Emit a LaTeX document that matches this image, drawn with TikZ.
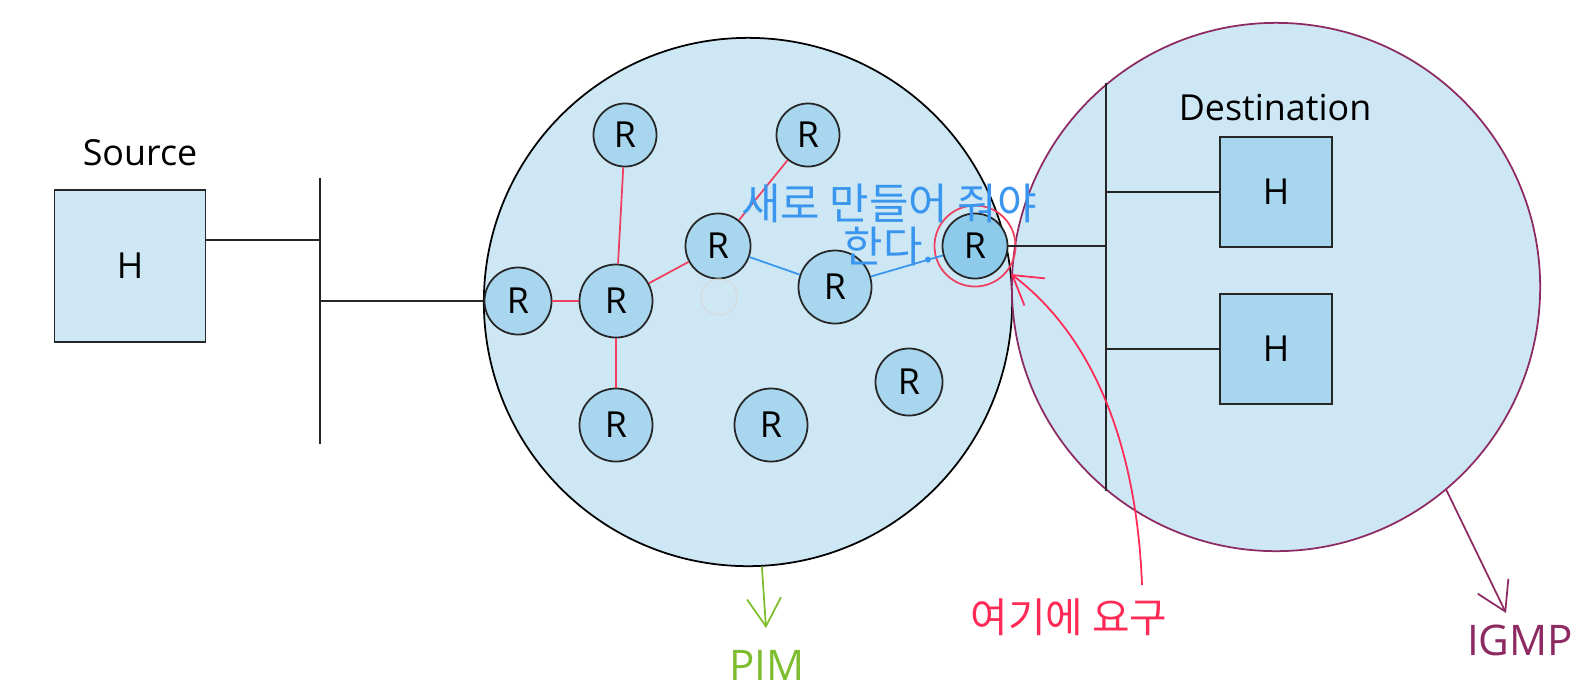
\documentclass[tikz,border=0pt]{standalone}
\usepackage{fontspec}
\setmainfont{Open Sans}
\newfontfamily\krfont{Noto Sans CJK KR}
\usetikzlibrary{arrows.meta}

\definecolor{areafill}{HTML}{CDE7F5}
\definecolor{nodefill}{HTML}{A8D6EE}
\definecolor{hotfill}{HTML}{8ECAE9}
\definecolor{pathred}{HTML}{F0405F}
\definecolor{notered}{HTML}{FF2A55}
\definecolor{pathblue}{HTML}{3A95EE}
\definecolor{pimgreen}{HTML}{7EBE2E}
\definecolor{igmppurple}{HTML}{8E2A62}

\begin{document}
\begin{tikzpicture}[
    x=0.01cm, y=-0.01cm,
    font=\fontsize{10.2}{12}\selectfont,
    area/.style={circle, draw=black, fill=areafill, line width=0.5pt, minimum size=5.28cm, inner sep=0pt},
    router/.style={circle, draw=black!85, fill=nodefill, line width=0.5pt, inner sep=0pt, minimum size=0.67cm},
    bigrouter/.style={router, minimum size=0.73cm},
    smallrouter/.style={router, minimum size=0.63cm},
    hostbox/.style={rectangle, draw=black!85, fill=nodefill, line width=0.5pt, minimum width=1.12cm, minimum height=1.1cm},
    wire/.style={line width=0.5pt, black!85},
    redlink/.style={line width=0.5pt, pathred},
    bluelink/.style={line width=0.5pt, pathblue},
    note/.style={-{Straight Barb[length=2.8mm, width=3.4mm]}, line width=0.5pt}
]
\useasboundingbox (0,0) rectangle (1588,687);

% networks
\node[area] (pim) at (748,302) {};
\node[area, draw=igmppurple] (igmp) at (1276,287) {};

% source side
\node[hostbox, fill=areafill, minimum width=1.51cm, minimum height=1.52cm] (src) at (130,266) {H};
\node (srclabel) at (140,153) {Source};
\coordinate (lanA1) at (320,178);
\coordinate (lanA2) at (320,444);
\draw[wire] (lanA1) -- (lanA2);
\draw[wire] (src.east |- 0,240) -- (lanA1 |- 0,240);

% routers
\node[smallrouter] (r1) at (625,135) {R};
\node[smallrouter] (r2) at (808,135) {R};
\node[router, minimum size=0.65cm] (r3) at (718,246) {R};
\node[router] (r4) at (518,301) {R};
\node[bigrouter] (r5) at (616,301) {R};
\node[bigrouter] (r6) at (835,287) {R};
\node[router, fill=hotfill, minimum size=0.65cm] (r7) at (975,246) {R};
\node[circle, draw=pathred, line width=0.5pt, minimum size=0.81cm] (ring) at (r7) {};
\node[router] (r8) at (909,382) {R};
\node[bigrouter] (r9) at (616,425) {R};
\node[bigrouter] (r10) at (771,425) {R};
\node[circle, draw=black!15, line width=0.3pt, minimum size=0.36cm] (ghost) at (719,297) {};

\draw[wire] (lanA1 |- 0,301) -- (r4);

% tree
\draw[redlink] (r4) -- (r5);
\draw[redlink] (r5) -- (r1);
\draw[redlink] (r5) -- (r9);
\draw[redlink] (r5) -- (r3);
\draw[redlink] (r3) -- (r2);
\draw[bluelink] (r3) -- (r6);
\draw[bluelink] (r6) -- (r7);

% destination side
\coordinate (lanB1) at (1106,83);
\coordinate (lanB2) at (1106,491);
\draw[wire] (lanB1) -- (lanB2);
\draw[wire] (r7.east) -- (lanB1 |- r7.east);
\node[hostbox] (dst1) at (1276,192) {H};
\node[hostbox] (dst2) at (1276,349) {H};
\node (dstlabel) at (1275,107) {Destination};
\draw[wire] (lanB1 |- dst1) -- (dst1);
\draw[wire] (lanB1 |- dst2) -- (dst2);

% annotations
\node[text=pathblue, align=center, font=\krfont\fontsize{12.2}{12.4}\selectfont] (newtext) at (889,225) {새로 만들어 줘야\\한다.};
\node[text=notered, font=\krfont\fontsize{11.6}{12}\selectfont] (reqtext) at (1069,617) {여기에 요구};
\coordinate (reqstart) at (1142,585);
\draw[note, notered] (reqstart) .. controls (1136,430) and (1085,330) .. (1011,274);

\node[text=pimgreen, font=\fontsize{12}{14}\selectfont] (pimlabel) at (767,665) {PIM};
\draw[note, pimgreen] (pim.-87) -- (766,628);
\node[text=igmppurple, font=\fontsize{12}{14}\selectfont] (igmplabel) at (1520,640) {IGMP};
\draw[note, igmppurple] (igmp.-50) -- (1506,613);

\end{tikzpicture}
\end{document}
